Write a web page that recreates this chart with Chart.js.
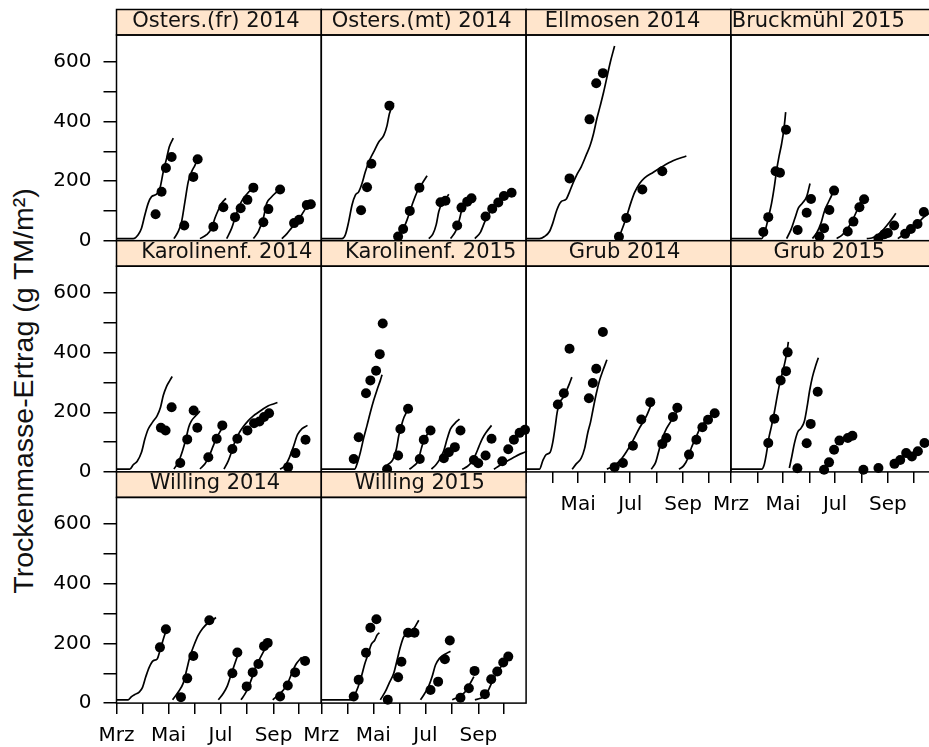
<!DOCTYPE html>
<html>
<head>
<meta charset="utf-8">
<script src="https://cdn.jsdelivr.net/npm/chart.js@4/dist/chart.umd.min.js"></script>
<style>
  html, body { margin: 0; padding: 0; background: #fff; }
  #wrap { position: relative; width: 929px; height: 747px; overflow: hidden; background: #fff; }
  #wrap canvas { position: absolute; }
  #ytitle {
    position: absolute; width: 440px; height: 34px; line-height: 34px;
    left: -197px; top: 374px; text-align: center; white-space: nowrap;
    font-family: 'Liberation Sans', Arial, sans-serif; font-size: 28.5px; color: #111;
    transform: rotate(-90deg); transform-origin: 50% 50%;
  }
</style>
</head>
<body>
<div id="wrap"><div id="ytitle">Trockenmasse-Ertrag (g TM/m²)</div></div>
<script>
// x: day of year (1 March = 60), y: dry-matter yield in g TM/m²
const monthDays = [60, 91, 121, 152, 182, 213, 244, 274];
const monthLabels = ['Mrz', '', 'Mai', '', 'Jul', '', 'Sep', ''];
const yTickValues = [0, 100, 200, 300, 400, 500, 600];

// Simulated regrowth curves (one array per cut cycle) and measured yields
const ostersFr2014Sim = [
  [[60,7],[79.6,7],[85.4,20],[89.3,42],[93.3,87],[97.2,126],[101.1,148],[107,156],[110.9,176],[114.8,231],[118.7,276],[121.8,314],[126.5,344]],
  [[127.3,7],[132.4,31],[136.3,64],[140.2,131],[144.1,198],[148,231],[151.9,253],[156.6,284]],
  [[157.8,7],[165.6,20],[171.5,42],[175.4,76],[179.3,103],[183.2,126],[188.3,142]],
  [[189.1,7],[195,42],[198.9,76],[202.8,109],[206.7,133],[212.6,156],[218.5,173],[223.5,181]],
  [[220.4,7],[226.3,31],[232.1,76],[236.1,126],[240.8,144],[245.8,159],[251.7,170]],
  [[253.7,7],[259.5,23],[265.4,44],[271.3,62],[277.1,87],[283,114],[287.7,126]]
];
const ostersFr2014Obs = [[105.8,89],[112.8,164],[117.9,244],[124.6,281],[139.4,51],[150,214],[155.1,273],[173.5,47],[185.2,112],[198.9,79],[205.5,109],[213.4,137],[220.4,178],[232.1,62],[238,106],[251.7,172],[268.1,59],[274,70],[283,120],[287.7,122]];

const ostersMt2014Sim = [
  [[60,7],[84.3,7],[88.2,20],[92.1,64],[96,120],[99.9,153],[103.8,164],[107.7,192],[111.6,231],[115.6,264],[121.4,298],[127.3,331],[133.2,353],[137.1,387],[139.8,426],[144.9,461]],
  [[148.8,7],[154.7,31],[160.5,70],[166.4,120],[172.3,164],[178.2,192],[184,218]],
  [[186,7],[190.7,22],[194.6,53],[197.7,98],[201.6,126],[206.3,142],[209.4,156]],
  [[211.4,7],[217.3,31],[221.2,64],[225.1,107],[229.8,128],[234.9,140],[240,151]],
  [[240,7],[246.6,29],[252.5,70],[258.4,100],[264.2,120],[272.1,140],[279.9,156],[283.8,162]]
];
const ostersMt2014Obs = [[106.6,102],[113.6,179],[118.7,258],[139.8,453],[150,14],[155.9,39],[163.7,100],[175,178],[199.7,129],[205.5,134],[219.2,51],[224.3,111],[231,131],[236,142],[252.5,81],[260.3,107],[267.4,128],[274,150],[283,161]];

const ellmosen2014Sim = [
  [[60,7],[75.6,7],[81.5,14],[87.4,31],[91.3,59],[96,103],[101.1,131],[106.9,139],[110.9,164],[114.8,192],[119.5,222],[124.6,248],[130.4,287],[135.1,320],[139,359],[142.9,409],[146.9,453],[150.8,498],[154.7,548],[158.6,598],[163.7,653]],
  [[167.6,4],[171.5,31],[177.4,78],[183.2,131],[187.2,162],[193,192],[198.9,211],[208.7,229],[220.4,250],[232.1,268],[247.8,284]]
];
const ellmosen2014Obs = [[110.9,209],[134.3,407],[142.2,528],[150,562],[168.8,13],[177.4,76],[196.2,172],[219.6,233]];

const bruckmuehl2015Sim = [
  [[60,7],[96,7],[99.9,31],[103.8,76],[107.7,126],[110.9,181],[113.6,237],[116.3,281],[119.5,326],[122.2,376],[124.2,431]],
  [[125.3,7],[130.4,37],[135.1,76],[139,109],[143.7,126],[148.8,148],[152.7,192]],
  [[155.5,7],[160.5,26],[165.6,59],[169.5,98],[174.2,129],[178.2,153],[181.3,178]],
  [[184,7],[189.9,18],[195.8,37],[201.6,64],[206.3,92],[211.4,126],[215.3,148]],
  [[219.2,7],[225.1,9],[230.9,17],[236.8,31],[242.7,51],[248.6,73],[253.3,92]],
  [[255.6,7],[262.3,20],[268.1,31],[274,44],[279.9,61],[285.7,78],[291.6,91],[297.5,109]]
];
const bruckmuehl2015Obs = [[98,29],[103.8,79],[112.4,233],[117.5,228],[124.6,372],[138.2,36],[148.8,94],[153.9,140],[163.7,14],[169.2,42],[175.4,103],[180.9,168],[196.9,31],[203.6,64],[210.6,112],[216.1,139],[232.9,7],[240,22],[243.9,26],[251.3,51],[264.2,23],[270.9,39],[278.7,56],[286.1,96]];

const karolinenf2014Sim = [
  [[60,9],[75.6,9],[79.6,24],[84.3,36],[89.3,66],[93.3,111],[97.2,144],[102.3,167],[107.7,189],[111.6,217],[114.8,256],[118.7,287],[122.6,307],[125.3,320]],
  [[127.3,10],[132.4,32],[137.5,72],[141.4,111],[144.6,150],[148,172],[153.1,189],[157.8,204]],
  [[157.8,10],[163.7,27],[168.4,52],[173.5,88],[178.2,119],[182.1,139],[186,159]],
  [[186,9],[191.1,38],[195,69],[198.9,103],[204,132],[208.7,152],[214.5,172],[220.4,188],[226.3,200],[232.1,212],[238,222],[243.9,228],[248.6,233]],
  [[251.7,9],[257.6,21],[262.7,49],[267.4,85],[272.1,125],[277.1,144],[283.8,156]]
];
const karolinenf2014Obs = [[112,148],[117.5,139],[124.6,217],[134.7,30],[142.9,109],[150.4,206],[154.7,148],[167.6,49],[177.4,111],[184,156],[195.8,77],[201.6,111],[213.4,139],[221.2,163],[227.5,169],[232.9,184],[238.8,197],[261.1,16],[269.7,63],[281.5,108]];

const karolinenf2015Sim = [
  [[60,9],[99.1,9],[101.9,27],[105.8,66],[109.7,114],[113.6,156],[117.5,200],[121.4,240],[125.3,275],[129.2,307],[131.2,326]],
  [[133.2,9],[138.2,25],[143.7,40],[148,77],[150.8,122],[153.9,156],[156.6,181],[159.8,200]],
  [[163.3,9],[168.4,20],[173.5,38],[176.6,72],[180.1,105],[184,125],[186.8,141]],
  [[189.1,9],[194.6,25],[199.7,47],[203.6,72],[207.5,111],[211.4,144],[216.5,163],[222,177]],
  [[225.1,9],[231,18],[236,32],[240.8,58],[244.7,85],[248.6,111],[253.3,133],[259.5,156]],
  [[262.3,9],[268.1,20],[274,31],[279.9,40],[285.7,49],[291.6,58],[297.5,65],[301,69]]
];
const karolinenf2015Obs = [[98,43],[103.8,116],[112.4,264],[117.5,307],[124.2,339],[128.5,395],[132,498],[137.1,9],[150,55],[152.7,144],[161.7,212],[175.4,43],[180.1,108],[188,139],[203.6,46],[209.4,66],[216.5,83],[223.1,139],[238.8,40],[243.9,29],[252.5,55],[259.5,111],[272.1,36],[279.1,76],[285.7,108],[292.4,131],[298.7,141]];

const grub2014Sim = [
  [[60,9],[75.6,9],[79.6,38],[83.5,58],[88.2,66],[91.3,100],[94,150],[96.4,200],[99.1,231],[103.8,251],[107.7,275],[110.9,297],[113.6,318]],
  [[114,9],[118.7,27],[124.6,46],[128.5,78],[132.4,133],[135.5,167],[138.2,206],[142.2,262],[146.1,307],[150,340],[154.7,376]],
  [[154.7,9],[161.7,19],[169.5,36],[177.4,67],[185.2,105],[193,148],[200.8,186],[206.7,226]],
  [[206.7,9],[211.8,32],[215.7,72],[219.6,111],[224.3,144],[230.2,172],[235.3,195],[239.2,219]],
  [[239.2,9],[244.7,21],[249.8,47],[253.7,81],[258.4,111],[263.4,144],[269.3,167],[275.2,186],[282.2,200]]
];
const grub2014Obs = [[97.2,226],[104.2,264],[110.9,413],[133.6,247],[138.2,298],[142.2,346],[150,469],[163.7,16],[173.5,30],[185.2,88],[195,176],[205.5,234],[219.6,94],[224.3,114],[232.1,184],[237.2,215],[250.9,58],[259.5,108],[266.6,150],[273.2,175],[281,197]];

const grub2015Sim = [
  [[60,9],[96,9],[99.1,25],[101.9,66],[104.6,116],[107.7,155],[110.9,200],[114.4,256],[117.5,301],[120.6,335],[123.4,369],[125.7,403],[127.3,436]],
  [[128.5,13],[131.2,49],[134.3,94],[138.2,133],[142.2,147],[146.1,170],[149.2,217],[152.3,273],[155.5,318],[159.4,357],[162.5,383]]
];
const grub2015Obs = [[103.8,97],[110.9,178],[118.3,307],[124.6,338],[126.5,401],[137.9,12],[148.8,96],[153.5,161],[161.7,269],[169.2,7],[175,32],[180.9,74],[187.2,105],[197,114],[202.4,121],[215.3,7],[232.9,13],[251.7,27],[258.4,40],[265.4,63],[272.1,52],[279.1,69],[286.9,97]];

const willing2014Sim = [
  [[60,11],[73.7,11],[77.6,22],[81.5,29],[86.6,37],[90.5,53],[94.4,89],[98.3,120],[103,142],[107.7,148],[110.9,176],[114,206],[116.7,231],[118.7,244]],
  [[125.7,11],[132.4,37],[138.2,67],[142.2,111],[146.1,156],[150.8,194],[155.9,228],[160.9,250],[166.4,267],[173.5,280],[176.6,287]],
  [[179.3,11],[185.2,33],[189.9,58],[193.8,91],[198.1,128],[202.8,167]],
  [[205.9,11],[210.6,31],[214.5,53],[218.5,83],[222.4,117],[227.1,144],[232.1,172],[238,202]],
  [[243.1,11],[249.8,28],[255.6,44],[260.7,67],[265.4,100],[270.5,131],[275.2,148],[277.1,153]]
];
const willing2014Obs = [[110.9,187],[117.9,248],[135.5,20],[142.9,83],[150,158],[168.8,278],[195.8,100],[201.6,170],[212.6,56],[219.6,103],[226.3,131],[232.9,191],[237.2,202],[251.7,22],[260.7,59],[269.3,103],[281,141]];

const willing2015Sim = [
  [[60,11],[96,11],[99.1,27],[103,53],[107,89],[110.9,131],[114.8,164],[118.7,198],[122.6,211],[125.3,228],[128.1,236]],
  [[129.2,11],[135.1,39],[139.8,69],[144.9,100],[148.8,144],[152.7,189],[156.6,222],[161.7,239],[168.4,250],[174.2,278]],
  [[176.2,11],[181.3,33],[186,58],[189.9,89],[193.8,128],[198.5,150],[204.8,164],[211.4,174]],
  [[213.4,11],[219.2,19],[225.1,28],[229.8,42],[234.1,64],[238.8,89]],
  [[240,11],[246.6,16],[252.5,27],[256.4,47],[260.3,72],[265,98],[270.1,120],[275.9,138],[281.8,153]]
];
const willing2015Obs = [[98,22],[103.8,78],[112.4,169],[117.5,253],[124.6,281],[137.9,11],[150,87],[153.9,139],[161.7,236],[169.2,236],[188,44],[196.9,72],[204.8,147],[210.6,210],[223.1,18],[232.9,50],[239.6,108],[251.7,30],[259.1,80],[266.2,106],[273.2,136],[279.1,156]];

const siteNames = ['Osters.(fr) 2014', 'Osters.(mt) 2014', 'Ellmosen 2014', 'Bruckmühl 2015',
                   'Karolinenf. 2014', 'Karolinenf. 2015', 'Grub 2014', 'Grub 2015',
                   'Willing 2014', 'Willing 2015'];
const simSeries = [ostersFr2014Sim, ostersMt2014Sim, ellmosen2014Sim, bruckmuehl2015Sim,
                   karolinenf2014Sim, karolinenf2015Sim, grub2014Sim, grub2015Sim,
                   willing2014Sim, willing2015Sim];
const obsSeries = [ostersFr2014Obs, ostersMt2014Obs, ellmosen2014Obs, bruckmuehl2015Obs,
                   karolinenf2014Obs, karolinenf2015Obs, grub2014Obs, grub2015Obs,
                   willing2014Obs, willing2015Obs];

// ---- trellis geometry ----
const COLS = 4;
const COL_L0 = 116.5, COL_W = 204.8;
const ROW_T0 = 9.5, ROW_H = 231.2, STRIP_H = 25.5;
const MARGIN = { l: 120, r: 30, t: 4, b: 52 };
const Y_AXIS_W = 100;   // box reserved for y tick labels (inside left margin)
const X_AXIS_H = 45;    // box reserved for x tick labels (inside bottom margin)
const stripShift = [-3, -2, -6, -15, 8, 7, -4, -4, -4, -4];
const FONT = "'DejaVu Sans', Verdana, sans-serif";

Chart.defaults.animation = false;
Chart.defaults.font.family = FONT;

const stripPlugin = {
  id: 'stripFrame',
  beforeDatasetsDraw(chart, args, opts) {
    const a = chart.chartArea, ctx = chart.ctx;
    ctx.save();
    ctx.fillStyle = '#ffe5cc';
    ctx.fillRect(a.left, a.top - STRIP_H, a.right - a.left, STRIP_H);
    ctx.strokeStyle = '#000';
    ctx.lineWidth = 1.5;
    ctx.strokeRect(a.left, a.top - STRIP_H, a.right - a.left, STRIP_H);
    ctx.strokeRect(a.left, a.top, a.right - a.left, a.bottom - a.top);
    ctx.fillStyle = '#111';
    ctx.font = '21px ' + FONT;
    ctx.textAlign = 'center';
    ctx.textBaseline = 'middle';
    ctx.fillText(opts.title, (a.left + a.right) / 2 + opts.shift, a.top - STRIP_H / 2 - 1.2);
    ctx.restore();
  }
};

const wrap = document.getElementById('wrap');

siteNames.forEach((name, i) => {
  const col = i % COLS, row = Math.floor(i / COLS);
  const px = COL_L0 + col * COL_W;
  const py = ROW_T0 + row * ROW_H;
  const plotTop = py + STRIP_H, plotBottom = py + ROW_H;
  const cx = Math.floor(px - MARGIN.l), cy = Math.floor(py - MARGIN.t);
  const cw = Math.ceil(px + COL_W + MARGIN.r) - cx;
  const ch = Math.ceil(plotBottom + MARGIN.b) - cy;

  const canvas = document.createElement('canvas');
  canvas.width = cw; canvas.height = ch;
  canvas.style.left = cx + 'px'; canvas.style.top = cy + 'px';
  canvas.style.width = cw + 'px'; canvas.style.height = ch + 'px';
  wrap.appendChild(canvas);

  const showY = col === 0;
  const showX = row === 2 || (row === 1 && col >= 2);
  const hideFirstMonth = col === 2;

  const datasets = simSeries[i].map(cycle => ({
    data: cycle.map(([x, y]) => ({ x, y })),
    showLine: true,
    pointRadius: 0,
    borderColor: '#000',
    borderWidth: 1.7,
    cubicInterpolationMode: 'monotone',
    fill: false,
    clip: false
  }));
  datasets.push({
    data: obsSeries[i].map(([x, y]) => ({ x, y })),
    showLine: false,
    pointRadius: 5,
    pointBackgroundColor: '#000',
    pointBorderWidth: 0,
    clip: false
  });

  new Chart(canvas, {
    type: 'scatter',
    data: { datasets },
    options: {
      responsive: false,
      devicePixelRatio: 1,
      events: [],
      layout: {
        padding: {
          left: px - cx - Y_AXIS_W,
          top: plotTop - cy,
          right: cx + cw - (px + COL_W),
          bottom: cy + ch - plotBottom - X_AXIS_H
        }
      },
      plugins: {
        legend: { display: false },
        tooltip: { enabled: false },
        stripFrame: { title: name, shift: stripShift[i] }
      },
      scales: {
        x: {
          type: 'linear', position: 'bottom', min: 60, max: 300,
          afterFit(s) { s.height = X_AXIS_H; },
          afterBuildTicks(s) { s.ticks = monthDays.map(v => ({ value: v })); },
          border: { display: false },
          grid: { display: showX, drawOnChartArea: false, drawTicks: true, tickLength: 11, color: '#000', lineWidth: 1.5 },
          ticks: {
            display: showX, autoSkip: false, maxRotation: 0, minRotation: 0, padding: 10,
            color: '#000', font: { size: 20, family: FONT },
            callback(v, idx) {
              if (hideFirstMonth && idx === 0) return '';
              return monthLabels[idx];
            }
          }
        },
        y: {
          type: 'linear', position: 'left', min: 0, max: 690,
          afterFit(s) { s.width = Y_AXIS_W; },
          afterBuildTicks(s) { s.ticks = yTickValues.map(v => ({ value: v })); },
          border: { display: false },
          grid: { display: showY, drawOnChartArea: false, drawTicks: true, tickLength: 13, color: '#000', lineWidth: 1.5 },
          ticks: {
            display: showY, padding: 12, color: '#000', font: { size: 20, family: FONT },
            callback(v) { return v % 200 === 0 ? String(v) : ''; }
          }
        }
      }
    },
    plugins: [stripPlugin]
  });
});
</script>
</body>
</html>
